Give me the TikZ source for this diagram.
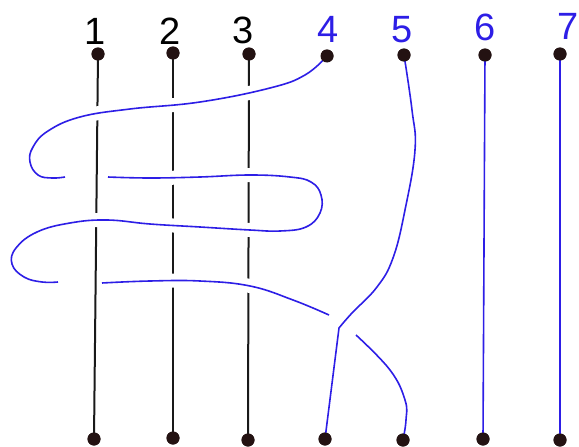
\documentclass[tikz,border=0pt]{standalone}
\usepackage{fontspec}
\setmainfont{Liberation Sans}
\definecolor{bl}{RGB}{45,30,230}
\definecolor{dotc}{RGB}{35,18,18}
\begin{document}
\begin{tikzpicture}[x=1pt,y=-1pt,
  dotn/.style={circle,fill=dotc,inner sep=0pt,minimum size=13pt},
  lab/.style={anchor=base,inner sep=0pt,font=\fontsize{38}{38}\selectfont},
  blk/.style={line width=2pt,black!90},
  bls/.style={line width=1.6pt,bl},
  over/.style={preaction={draw=white,line width=14pt}}]
\useasboundingbox (0,0) rectangle (579,447);
% dots
\node[dotn] (t1) at (98,54) {};
\node[dotn] (t2) at (173,53) {};
\node[dotn] (t3) at (249,54) {};
\node[dotn] (t4) at (327,56) {};
\node[dotn] (t5) at (404,55) {};
\node[dotn] (t6) at (485,55) {};
\node[dotn] (t7) at (560,54) {};
\node[dotn] (b1) at (94,439) {};
\node[dotn] (b2) at (173,438) {};
\node[dotn] (b3) at (248,440) {};
\node[dotn] (b4) at (325,439) {};
\node[dotn] (b5) at (403,440) {};
\node[dotn] (b6) at (483,439) {};
\node[dotn] (b7) at (560,440) {};
% black strands
\draw[blk] (t1.center) -- (b1.center);
\draw[blk] (t2.center) -- (b2.center);
\draw[blk] (t3.center) -- (b3.center);
% strand 4 pieces
\draw[bls,over] plot[smooth,tension=0.7] coordinates {(327,56) (305,75) (270,88) (200,102) (130,109) (80,117) (48,131) (33,147) (30,162) (38,175) (52,178) (65,177)};
\draw[bls,over] plot[smooth,tension=0.7] coordinates {(108,177) (150,178) (200,177) (250,175) (290,177) (311,182) (321,195) (320,213) (306,227) (280,231) (250,230) (200,227) (150,224) (107,220) (70,223) (37,232) (16,248) (12,264) (24,277) (42,282) (58,282)};
\draw[bls,over] plot[smooth,tension=0.7] coordinates {(102,283) (150,281) (200,281) (250,286) (293,300) (329,315)};
\draw[bls] plot[smooth,tension=0.7] coordinates {(356,335) (390,370) (405,400) (406,420) (403,440)};
% strand 5
\draw[bls] plot[smooth,tension=0.7] coordinates {(404,55) (412,110) (415,150) (405,210) (393,258) (377,287) (352,313) (339,328)} -- (b4.center);
% strands 6, 7
\draw[bls] (t6.center) -- (b6.center);
\draw[bls] (t7.center) -- (b7.center);
% redraw dots on top
\foreach \n in {t1,t2,t3,t4,t5,t6,t7,b1,b2,b3,b4,b5,b6,b7}
  \fill[dotc] (\n) circle (6.5pt);
% labels
\node[lab] (l1) at (95,44) {1};
\node[lab] (l2) at (170,44) {2};
\node[lab] (l3) at (243,43) {3};
\node[lab,text=bl] (l4) at (328,42) {4};
\node[lab,text=bl] (l5) at (402,42) {5};
\node[lab,text=bl] (l6) at (485,41) {6};
\node[lab,text=bl] (l7) at (568,39) {7};
\end{tikzpicture}
\end{document}
